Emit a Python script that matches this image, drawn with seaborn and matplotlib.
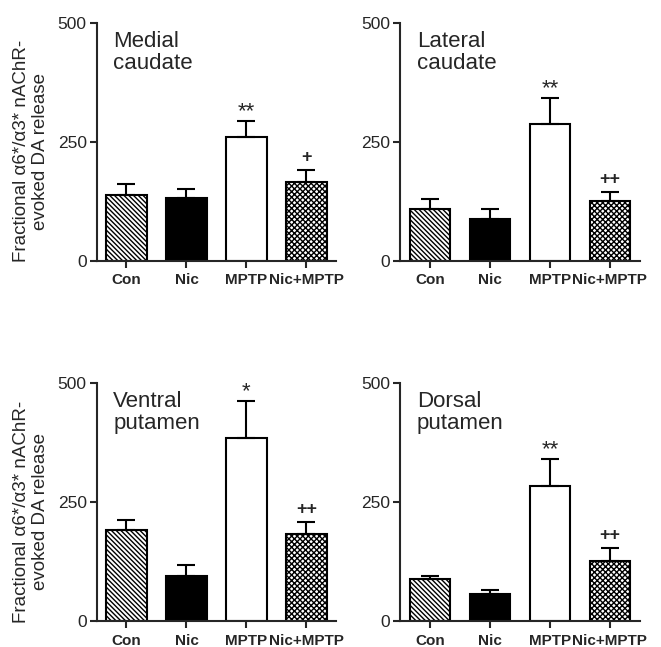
import numpy as np
import pandas as pd
import seaborn as sns
import matplotlib.pyplot as plt

groups = ['Con', 'Nic', 'MPTP', 'Nic+MPTP']
regions = ['Medial\ncaudate', 'Lateral\ncaudate', 'Ventral\nputamen', 'Dorsal\nputamen']

# means and upper SEM
means = {
    'Medial\ncaudate': [138, 132, 260, 165],
    'Lateral\ncaudate': [108, 88, 288, 125],
    'Ventral\nputamen': [191, 94, 385, 183],
    'Dorsal\nputamen': [89, 56, 284, 126],
}
sems = {
    'Medial\ncaudate': [24, 18, 34, 26],
    'Lateral\ncaudate': [21, 20, 54, 19],
    'Ventral\nputamen': [21, 23, 77, 25],
    'Dorsal\nputamen': [6, 9, 56, 27],
}
marks = {
    'Medial\ncaudate': ['', '', '**', '+'],
    'Lateral\ncaudate': ['', '', '**', '++'],
    'Ventral\nputamen': ['', '', '*', '++'],
    'Dorsal\nputamen': ['', '', '**', '++'],
}

sns.set_style('ticks')
plt.rcParams['font.family'] = ['Liberation Sans', 'DejaVu Sans']
plt.rcParams['hatch.linewidth'] = 1.0
plt.rcParams['hatch.color'] = 'black'

fills = ['white', 'black', 'white', 'white']
hatches = ['\\' * 7, '', '', 'xxxxxx']

fig = plt.figure(figsize=(6.61, 6.47), dpi=100)
positions = [(0.146, 0.597), (0.605, 0.597), (0.146, 0.040), (0.605, 0.040)]
W, H = 0.363, 0.368

for i, reg in enumerate(regions):
    ax = fig.add_axes([positions[i][0], positions[i][1], W, H])
    df = pd.DataFrame({'group': groups, 'value': means[reg]})
    sns.barplot(data=df, x='group', y='value', hue='group', palette=fills,
                legend=False, width=0.67, edgecolor='black', linewidth=1.5,
                errorbar=None, ax=ax)
    for p, h in zip(ax.patches, hatches):
        p.set_hatch(h)
    xs = np.arange(len(groups))
    err = np.array(sems[reg])
    ax.errorbar(xs, means[reg], yerr=[np.zeros_like(err), err], fmt='none',
                ecolor='black', elinewidth=1.5, capsize=6.5, capthick=1.5, zorder=1)
    for x, m, e, s in zip(xs, means[reg], err, marks[reg]):
        if s:
            bold = s.startswith('+')
            ax.annotate(s, (x, m + e), xytext=(0, 3 if bold else -1),
                        textcoords='offset points', ha='center', va='bottom',
                        fontsize=13 if bold else 16,
                        fontweight='bold' if bold else 'normal')
    ax.set_xlim(-0.5, 3.5)
    ax.set_ylim(0, 500)
    ax.set_yticks([0, 250, 500])
    ax.set_xlabel('')
    if i % 2 == 0:
        ax.set_ylabel('Fractional α6*/α3* nAChR-\nevoked DA release', fontsize=13.5,
                      linespacing=1.1)
        ax.yaxis.set_label_coords(-0.20, 0.46)
    else:
        ax.set_ylabel('')
    ax.text(0.07, 0.965, reg, transform=ax.transAxes, ha='left', va='top',
            fontsize=16, linespacing=1.05)
    sns.despine(ax=ax)
    for sp in ['left', 'bottom']:
        ax.spines[sp].set_linewidth(1.5)
    ax.tick_params(axis='both', width=1.5, length=5)
    ax.tick_params(axis='y', labelsize=12.5, pad=2)
    ax.tick_params(axis='x', labelsize=11, pad=4)
    for lbl in ax.get_xticklabels():
        lbl.set_fontweight('bold')

fig.savefig('out.png', dpi=100)
